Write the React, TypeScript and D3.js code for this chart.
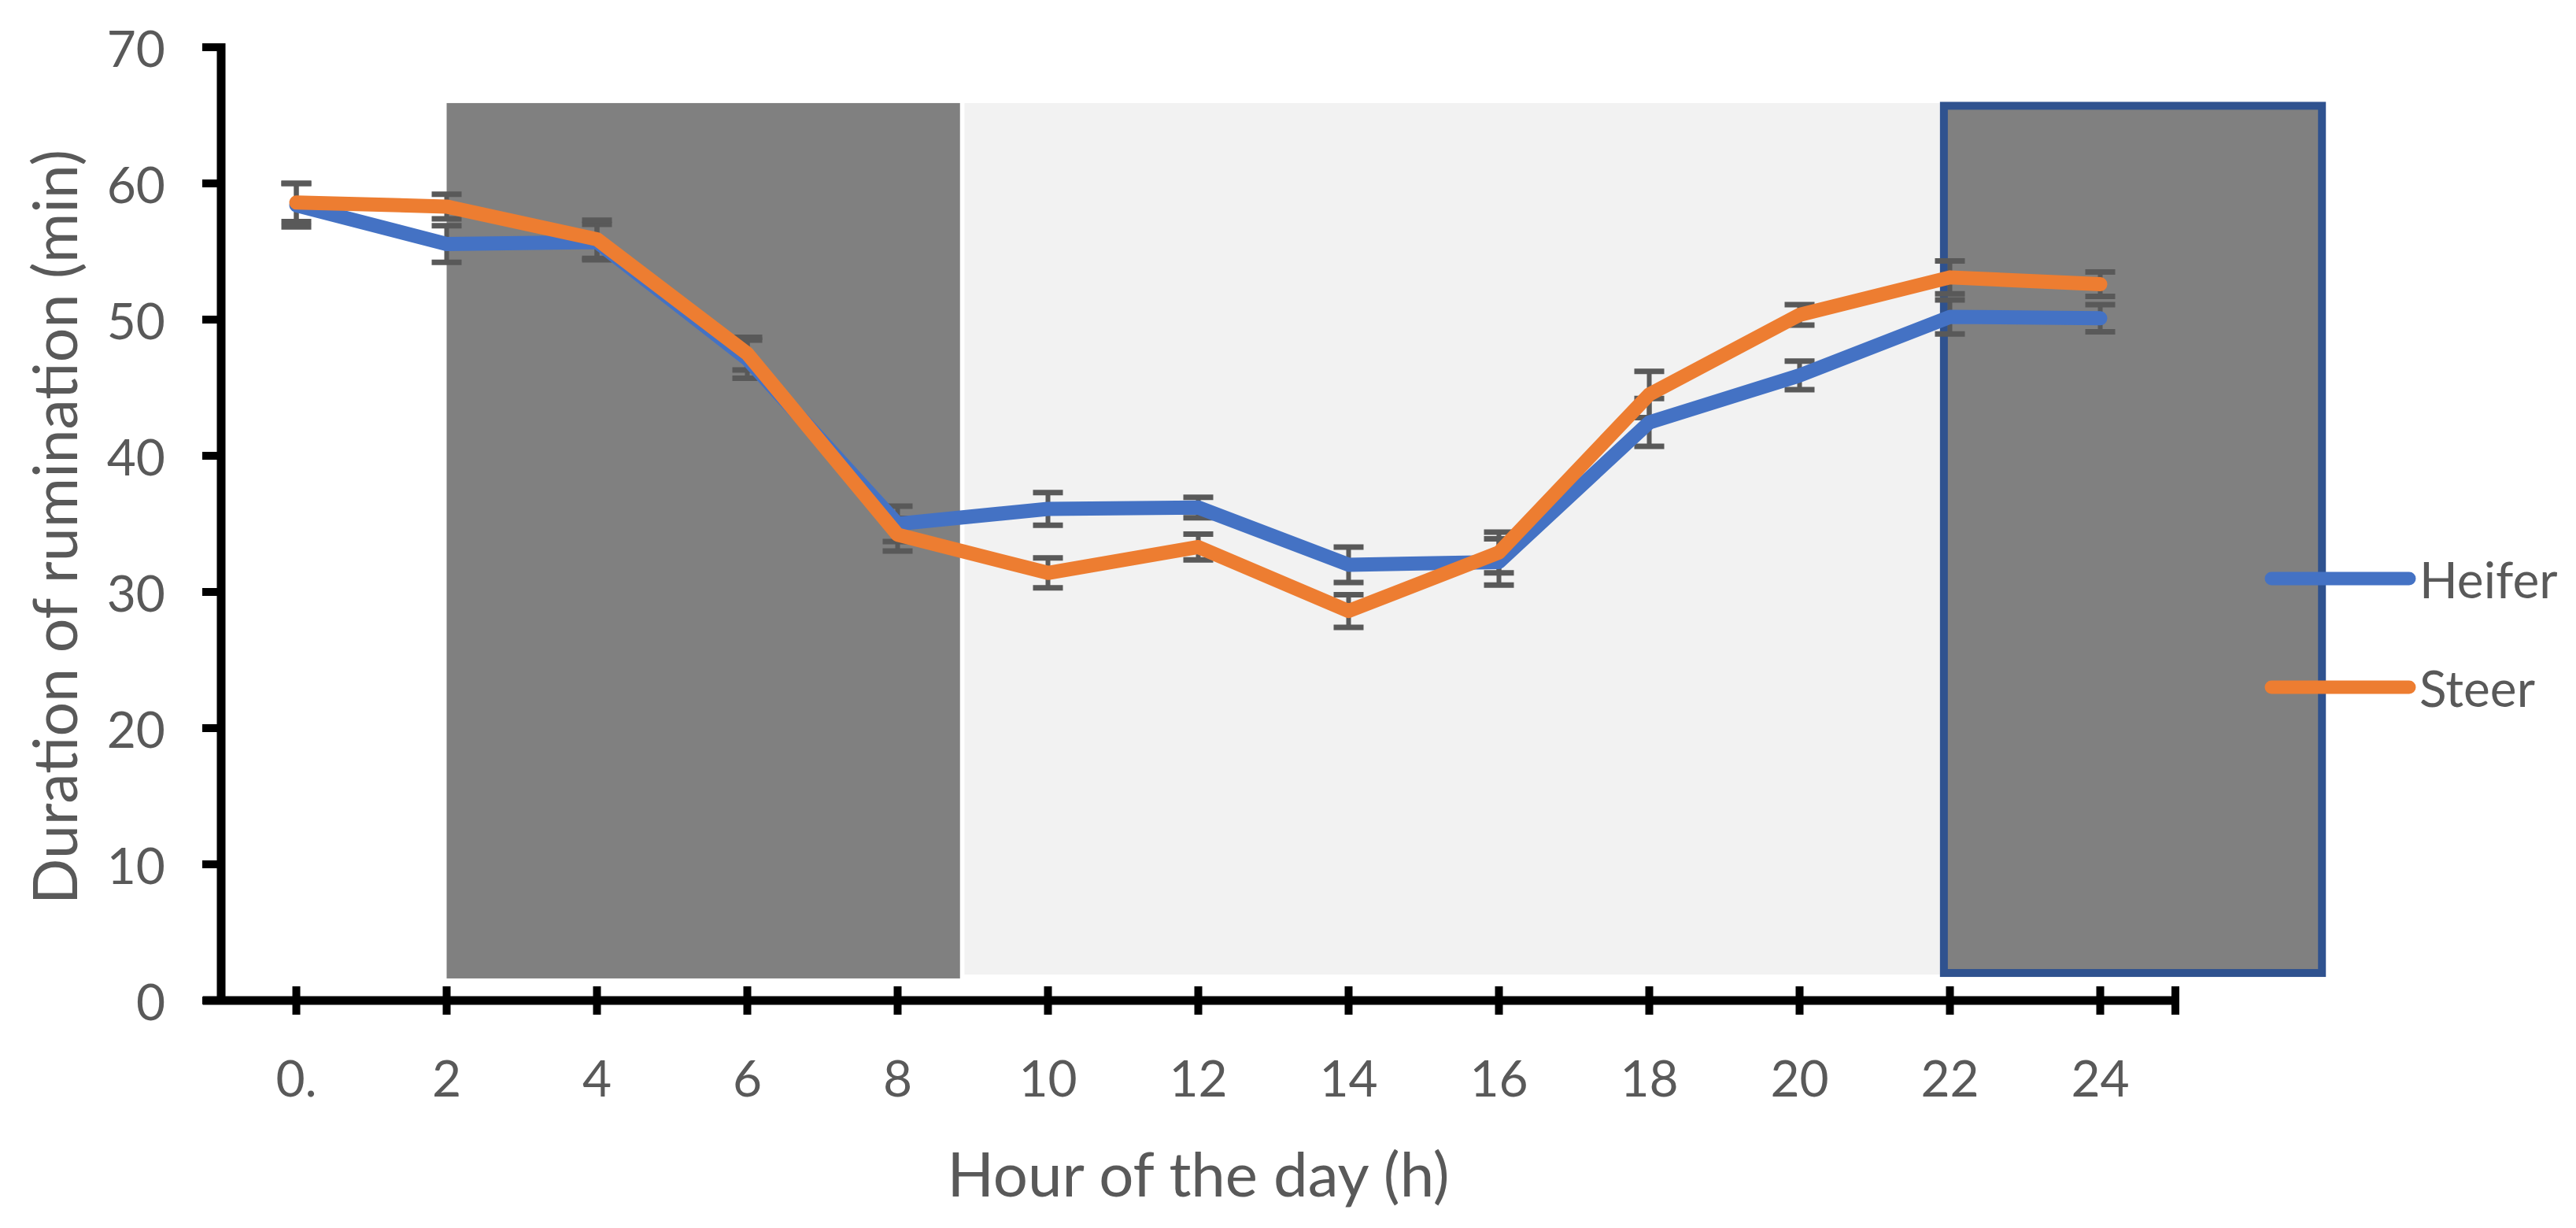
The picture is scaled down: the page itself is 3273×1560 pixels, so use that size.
import React from "react";
import * as d3 from "d3";

// ---- data ----
const hourLabels = ["0.", "2", "4", "6", "8", "10", "12", "14", "16", "18", "20", "22", "24"];
const hours = [0, 2, 4, 6, 8, 10, 12, 14, 16, 18, 20, 22, 24];
const heifer = [58.4, 55.55, 55.7, 47.1, 35.0, 36.1, 36.2, 32.0, 32.2, 42.45, 45.9, 50.2, 50.1];
const heiferSE = [1.6, 1.35, 1.3, 1.4, 1.3, 1.2, 0.75, 1.3, 1.7, 1.75, 1.05, 1.25, 1.0];
const steer = [58.6, 58.3, 55.9, 47.5, 34.2, 31.4, 33.3, 28.6, 32.9, 44.5, 50.35, 53.1, 52.6];
const steerSE = [1.4, 0.9, 1.4, 1.2, 1.2, 1.1, 0.95, 1.2, 1.5, 1.7, 0.75, 1.2, 0.9];
const yTicks = [0, 10, 20, 30, 40, 50, 60, 70];
const seriesNames = ["Heifer", "Steer"];

// shaded periods in hour units [start, end] and value units [bottom, top]
const darkPeriod = [2.0, 8.83];
const darkRange = [1.62, 65.9];
const lightPeriod = [8.89, 21.88];
const lightRange = [1.9, 65.9];
const boxPeriod = [21.92, 26.95];
const boxRange = [2.02, 65.7];

const W = 3273;
const H = 1560;
const FONT = "Lato, 'Open Sans', sans-serif";
const TXT = "#595959";
const BLUE = "#4472C4";
const ORANGE = "#ED7D31";

export default function App() {
  const x = d3.scalePoint<string>().domain(hourLabels).range([281, 2764]).padding(0.5);
  const xh = d3
    .scaleLinear()
    .domain([0, 24])
    .range([x(hourLabels[0]) as number, x(hourLabels[12]) as number]);
  const y = d3.scaleLinear().domain([0, 70]).range([1271, 60]);

  const line = d3
    .line<number>()
    .x((_, i) => xh(hours[i]))
    .y((d) => y(d));

  const series = [
    { name: seriesNames[0], vals: heifer, se: heiferSE, color: BLUE },
    { name: seriesNames[1], vals: steer, se: steerSE, color: ORANGE },
  ];

  const axisY = y(0);
  const axisX = 281;
  const xEnd = x.range()[1];

  return (
    <svg
      width={W}
      height={H}
      viewBox={`0 0 ${W} ${H}`}
      style={{ position: "absolute", left: 0, top: 0, display: "block", background: "#fff" }}
    >
      {/* shaded periods */}
      <rect
        x={xh(darkPeriod[0])}
        y={y(darkRange[1])}
        width={xh(darkPeriod[1]) - xh(darkPeriod[0])}
        height={y(darkRange[0]) - y(darkRange[1])}
        fill="#808080"
      />
      <rect
        x={xh(lightPeriod[0])}
        y={y(lightRange[1])}
        width={xh(lightPeriod[1]) - xh(lightPeriod[0])}
        height={y(lightRange[0]) - y(lightRange[1])}
        fill="#F2F2F2"
      />
      <rect
        x={xh(boxPeriod[0])}
        y={y(boxRange[1])}
        width={xh(boxPeriod[1]) - xh(boxPeriod[0])}
        height={y(boxRange[0]) - y(boxRange[1])}
        fill="#808080"
        stroke="#2F528F"
        strokeWidth={10}
      />

      {/* axes */}
      <line x1={axisX} x2={axisX} y1={y(70) - 5} y2={axisY + 5} stroke="#000" strokeWidth={11} />
      <line x1={258} x2={xEnd + 4} y1={axisY} y2={axisY} stroke="#000" strokeWidth={11} />
      {yTicks.map((t) => (
        <g key={"yt" + t}>
          <line x1={257} x2={axisX} y1={y(t)} y2={y(t)} stroke="#000" strokeWidth={10} />
          <text
            x={210}
            y={y(t)}
            textAnchor="end"
            dominantBaseline="central"
            fontFamily={FONT}
            fontSize={64}
            fill={TXT}
          >
            {t}
          </text>
        </g>
      ))}
      {hourLabels.map((h) => (
        <g key={"xt" + h}>
          <line
            x1={x(h) as number}
            x2={x(h) as number}
            y1={axisY - 18}
            y2={axisY + 18}
            stroke="#000"
            strokeWidth={10}
          />
          <text
            x={x(h) as number}
            y={1368}
            textAnchor="middle"
            dominantBaseline="central"
            fontFamily={FONT}
            fontSize={64}
            fill={TXT}
          >
            {h}
          </text>
        </g>
      ))}
      <line x1={xEnd} x2={xEnd} y1={axisY - 18} y2={axisY + 18} stroke="#000" strokeWidth={10} />

      {/* axis titles */}
      <text
        x={(axisX + xEnd) / 2}
        y={1490}
        textAnchor="middle"
        dominantBaseline="central"
        fontFamily={FONT}
        fontSize={78}
        fill={TXT}
      >
        Hour of the day (h)
      </text>
      <text
        transform={`translate(68, ${(y(0) + y(70)) / 2 + 4}) rotate(-90)`}
        textAnchor="middle"
        dominantBaseline="central"
        fontFamily={FONT}
        fontSize={77}
        fill={TXT}
      >
        Duration of rumination (min)
      </text>

      {/* error bars */}
      {series.map((s) => (
        <g key={"eb" + s.name} stroke="#595959">
          {s.vals.map((v, i) => {
            const cx = xh(hours[i]);
            const lo = y(v - s.se[i]);
            const hi = y(v + s.se[i]);
            return (
              <g key={i}>
                <line x1={cx} x2={cx} y1={hi} y2={lo} strokeWidth={6} />
                <line x1={cx - 19} x2={cx + 19} y1={hi} y2={hi} strokeWidth={7} />
                <line x1={cx - 19} x2={cx + 19} y1={lo} y2={lo} strokeWidth={7} />
              </g>
            );
          })}
        </g>
      ))}

      {/* lines */}
      {series.map((s) => (
        <path
          key={"ln" + s.name}
          d={line(s.vals) || ""}
          fill="none"
          stroke={s.color}
          strokeWidth={18}
          strokeLinecap="round"
          strokeLinejoin="round"
        />
      ))}

      {/* legend */}
      {series.map((s, i) => {
        const ly = [735, 873][i];
        return (
          <g key={"lg" + s.name}>
            <line
              x1={2886}
              x2={3061}
              y1={ly}
              y2={ly}
              stroke={s.color}
              strokeWidth={17}
              strokeLinecap="round"
            />
            <text
              x={3074}
              y={ly}
              dominantBaseline="central"
              fontFamily={FONT}
              fontSize={64}
              fill={TXT}
            >
              {s.name}
            </text>
          </g>
        );
      })}
    </svg>
  );
}
